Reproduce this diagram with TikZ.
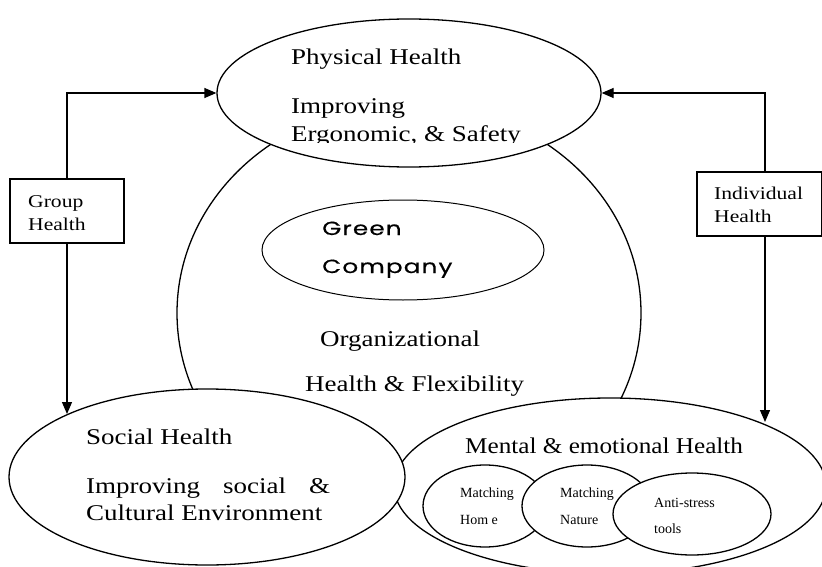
\documentclass[tikz,border=0pt]{standalone}
\usepackage{fontspec}
\setmainfont{Liberation Serif}[FakeStretch=1.2]
\newfontfamily\mentfont{Liberation Serif}[FakeStretch=1.12]
\newfontfamily\smallfont{Liberation Serif}
\newfontfamily\gsans{Poppins}[FakeStretch=1.3,LetterSpace=6,FakeBold=0.4]
\usetikzlibrary{shapes.geometric,arrows.meta}
\begin{document}
\begin{tikzpicture}[x=1pt,y=-1pt,
  shp/.style={ellipse, draw, line width=1.3pt, fill=white, inner sep=0pt},
  bx/.style={draw, line width=1.3pt, fill=white, inner sep=0pt},
  conn/.style={line width=1.3pt, -{Triangle[length=12pt,width=10pt]}},
  big/.style={anchor=base west, inner sep=0pt, font=\fontsize{22.5}{27}\selectfont},
  mid/.style={anchor=base west, inner sep=0pt, font=\fontsize{18}{22}\selectfont},
  sml/.style={anchor=base west, inner sep=0pt, font=\smallfont\fontsize{14}{17}\selectfont},
  gs/.style={anchor=base west, inner sep=0pt, font=\gsans\fontsize{19}{23}\selectfont},
  ment/.style={anchor=base west, inner sep=0pt, font=\mentfont\fontsize{22.5}{27}\selectfont}]
\clip (0,0) rectangle (822,567);
\fill[white] (0,0) rectangle (822,567);
% organizational big ellipse
\begin{scope}
  \clip (0,0) rectangle (822,420);
  \node[shp, minimum width=464pt, minimum height=420pt] (org) at (409,313) {};
\end{scope}
\node[shp, line width=1pt, minimum width=282pt, minimum height=100pt] (green) at (403,250) {};
\node[gs] (greenA) at (322,235) {Green};
\node[gs] (greenB) at (322,273) {Company};
\node[big] (orgA) at (320,346) {Organizational};
\node[big] (orgB) at (305,391) {Health \& Flexibility};
% physical
\node[shp, minimum width=384pt, minimum height=148pt] (phys) at (409,93) {};
\node[big] (physA) at (291,65) {Physical Health};
\node[big] (physB) at (291,114) {Improving};
\begin{scope}
  \clip (200,0) rectangle (620,142.3);
  \node[big] (physC) at (291,142) {Ergonomic, \& Safety};
\end{scope}
% mental
\node[shp, minimum width=432pt, minimum height=176pt] (ment) at (610,486) {};
\node[ment] (mentA) at (465,453) {Mental \& emotional Health};
\node[shp, minimum width=124pt, minimum height=82pt] (home) at (485,506) {};
\node[shp, minimum width=130pt, minimum height=82pt] (nat) at (587,506) {};
\node[shp, minimum width=158pt, minimum height=82pt] (anti) at (692,514) {};
\node[sml] (homeA) at (460,497) {Matching};
\node[sml] (homeB) at (460,524) {Hom e};
\node[sml] (natA) at (560,497) {Matching};
\node[sml] (natB) at (560,524) {Nature};
\node[sml] (antiA) at (654,507) {Anti-stress};
\node[sml] (antiB) at (654,533) {tools};
% social
\node[shp, minimum width=396pt, minimum height=176pt] (soc) at (207,477) {};
\node[big] (socA) at (86,444) {Social Health};
\node[big] (socB) at (86,493) {\makebox[244pt][s]{Improving social \&}};
\node[big] (socC) at (86,520) {Cultural Environment};
% boxes
\node[bx, minimum width=114pt, minimum height=64pt] (grp) at (67,211) {};
\node[mid] (grpA) at (28,207) {Group};
\node[mid] (grpB) at (28,230) {Health};
\node[bx, minimum width=125pt, minimum height=64pt] (ind) at (759.5,204) {};
\node[mid] (indA) at (714,199) {Individual};
\node[mid] (indB) at (714,222) {Health};
% connectors
\coordinate (socIn) at (67,414);
\coordinate (mentIn) at (765,422);
\draw[conn] (grp.north) |- (phys.west);
\draw[conn] (grp.south) -- (socIn);
\draw[conn] ([xshift=5.5pt]ind.north) |- (phys.east);
\draw[conn] ([xshift=5.5pt]ind.south) -- (mentIn);
\end{tikzpicture}
\end{document}
